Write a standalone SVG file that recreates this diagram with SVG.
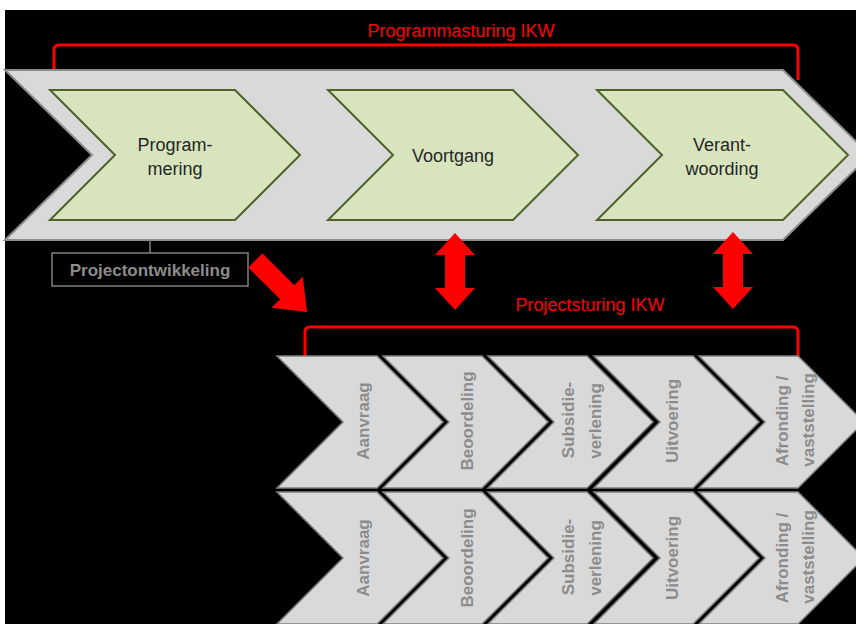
<svg xmlns="http://www.w3.org/2000/svg" width="856" height="624" viewBox="0 0 856 624">
  <style>
    .band { fill: #d9d9d9; stroke: #8c8c8c; stroke-width: 2; }
    .green { fill: #d7e4bd; stroke: #4f6228; stroke-width: 2; }
    .gray { fill: #d9d9d9; stroke: #7f7f7f; stroke-width: 1.5; }
    .dark { font-family: "Liberation Sans", Arial, sans-serif; font-size: 18px; fill: #262626; text-anchor: middle; }
    .red { font-family: "Liberation Sans", Arial, sans-serif; font-size: 18px; fill: #ff0000; text-anchor: middle; }
    .vt { font-family: "Liberation Sans", Arial, sans-serif; font-size: 17px; font-weight: bold; fill: #8c8c8c; text-anchor: middle; dominant-baseline: central; }
    .bracket { fill: none; stroke: #ff0000; stroke-width: 3; }
    .arrow { fill: #ff0000; }
  </style>
  <rect x="0" y="0" width="856" height="624" fill="#ffffff"/>
  <rect x="5" y="10" width="851" height="614" fill="#000000"/>

  <g id="programmasturing">
    <path class="bracket" d="M54,70 L54,50 Q54,45 59,45 L793,45 Q798,45 798,50 L798,80"/>
    <text class="red" x="461" y="37">Programmasturing IKW</text>
  </g>

  <g id="band">
    <polygon class="band" points="5,70 783,70 870,155 783,240 5,240 92,155"/>
  </g>

  <g id="programmering">
    <polygon class="green" points="50,90 235,90 300,155 235,220 50,220 115,155"/>
    <text class="dark" x="175" y="151">Program-</text>
    <text class="dark" x="175" y="175">mering</text>
  </g>
  <g id="voortgang">
    <polygon class="green" points="328,90 513,90 578,155 513,220 328,220 393,155"/>
    <text class="dark" x="453" y="162">Voortgang</text>
  </g>
  <g id="verantwoording">
    <polygon class="green" points="597,90 783,90 848,155 783,220 597,220 662,155"/>
    <text class="dark" x="722" y="151">Verant-</text>
    <text class="dark" x="722" y="175">woording</text>
  </g>

  <g id="projectontwikkeling">
    <rect x="52" y="253" width="196" height="33" fill="none" stroke="#7f7f7f" stroke-width="1.5"/>
    <text x="150" y="276" font-family="Liberation Sans, Arial, sans-serif" font-size="17" font-weight="bold" fill="#8c8c8c" text-anchor="middle">Projectontwikkeling</text>
  </g>

  <g id="connectors">
    <line x1="150" y1="240" x2="150" y2="253" stroke="#7f7f7f" stroke-width="1.5"/>
    <polygon class="arrow" transform="translate(307,312) rotate(45)" points="0,0 -28,22 -28,10 -73,10 -73,-10 -28,-10 -28,-22"/>
    <polygon class="arrow" points="455,233 475,255 465,255 465,288 475,288 455,310 435,288 445,288 445,255 435,255"/>
    <polygon class="arrow" points="733,232 753,254 743,254 743,287 753,287 733,309 713,287 723,287 723,254 713,254"/>
  </g>

  <g id="projectsturing">
    <path class="bracket" d="M305,356 L305,332 Q305,327 310,327 L793,327 Q798,327 798,332 L798,358"/>
    <text class="red" x="590" y="311">Projectsturing IKW</text>
  </g>

  <g id="row1">
    <g id="r1-aanvraag">
      <polygon class="gray" points="277,356 377,356 443,422 377,488 277,488 343,422"/>
      <text class="vt" transform="translate(363,421) rotate(-90)">Aanvraag</text>
    </g>
    <g id="r1-beoordeling">
      <polygon class="gray" points="383,356 482,356 548,422 482,488 383,488 449,422"/>
      <text class="vt" transform="translate(467,421) rotate(-90)">Beoordeling</text>
    </g>
    <g id="r1-subsidieverlening">
      <polygon class="gray" points="488,356 587,356 653,422 587,488 488,488 554,422"/>
      <text class="vt" transform="translate(568,420) rotate(-90)">Subsidie-</text>
      <text class="vt" transform="translate(595,421) rotate(-90)">verlening</text>
    </g>
    <g id="r1-uitvoering">
      <polygon class="gray" points="594,356 693,356 759,422 693,488 594,488 660,422"/>
      <text class="vt" transform="translate(672,421) rotate(-90)">Uitvoering</text>
    </g>
    <g id="r1-afronding">
      <polygon class="gray" points="699,356 798,356 864,422 798,488 699,488 765,422"/>
      <text class="vt" transform="translate(782,421) rotate(-90)">Afronding /</text>
      <text class="vt" transform="translate(808,420) rotate(-90)">vaststelling</text>
    </g>
  </g>

  <g id="row2">
    <g id="r2-aanvraag">
      <polygon class="gray" points="277,492 377,492 443,558 377,624 277,624 343,558"/>
      <text class="vt" transform="translate(363,558) rotate(-90)">Aanvraag</text>
    </g>
    <g id="r2-beoordeling">
      <polygon class="gray" points="383,492 482,492 548,558 482,624 383,624 449,558"/>
      <text class="vt" transform="translate(467,558) rotate(-90)">Beoordeling</text>
    </g>
    <g id="r2-subsidieverlening">
      <polygon class="gray" points="488,492 587,492 653,558 587,624 488,624 554,558"/>
      <text class="vt" transform="translate(568,557) rotate(-90)">Subsidie-</text>
      <text class="vt" transform="translate(595,558) rotate(-90)">verlening</text>
    </g>
    <g id="r2-uitvoering">
      <polygon class="gray" points="594,492 693,492 759,558 693,624 594,624 660,558"/>
      <text class="vt" transform="translate(672,558) rotate(-90)">Uitvoering</text>
    </g>
    <g id="r2-afronding">
      <polygon class="gray" points="699,492 798,492 864,558 798,624 699,624 765,558"/>
      <text class="vt" transform="translate(782,558) rotate(-90)">Afronding /</text>
      <text class="vt" transform="translate(808,557) rotate(-90)">vaststelling</text>
    </g>
  </g>
</svg>
